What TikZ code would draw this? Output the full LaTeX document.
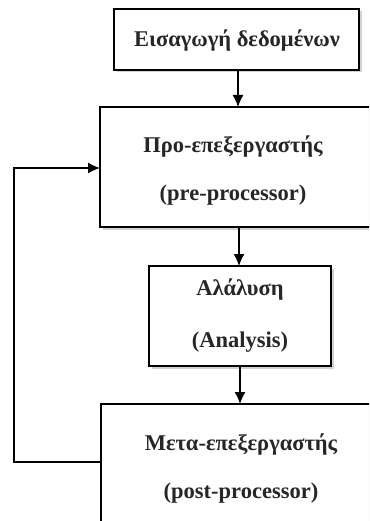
\documentclass[tikz,border=0pt]{standalone}
\usepackage{fontspec}
\setmainfont{Liberation Serif}
\usetikzlibrary{shadows,arrows.meta}
\begin{document}
\begin{tikzpicture}[x=1pt,y=-1pt,
  box/.style={draw=black,line width=1.3pt,fill=white,rectangle,inner sep=0pt,
    drop shadow={shadow xshift=2.5pt,shadow yshift=-2.5pt,opacity=0.35,fill=gray}},
  lbl/.style={font=\fontsize{22.5}{26}\selectfont\bfseries,inner sep=0pt,text=black!85},
  conn/.style={line width=1.3pt,-{Latex[length=12pt,width=11pt]}},
  feed/.style={line width=1.3pt}]
\useasboundingbox (0,0) rectangle (369,521);
\clip (0,0) rectangle (369,521);
% boxes
\node[box,minimum width=245pt,minimum height=61pt] (inp) at (236.5,39.5) {};
\node[box,minimum width=300pt,minimum height=120pt] (pre) at (250,167) {};
\node[box,minimum width=182pt,minimum height=100pt] (ana) at (240,316) {};
\node[box,minimum width=300pt,minimum height=130pt] (post) at (251,469) {};
% texts
\node[lbl] (tinp) at (237,41) {Εισαγωγή δεδομένων};
\node[lbl] (tpre1) at (233,147) {Προ-επεξεργαστής};
\node[lbl] (tpre2) at (233,195) {(pre-processor)};
\node[lbl] (tana1) at (240,290) {Αλάλυση};
\node[lbl] (tana2) at (240,342) {(Analysis)};
\node[lbl] (tpost1) at (241,445) {Μετα-επεξεργαστής};
\node[lbl] (tpost2) at (241,493) {(post-processor)};
% coordinates
\coordinate (a1) at (238,70);
\coordinate (a2) at (238,107);
\coordinate (b1) at (239,227);
\coordinate (b2) at (239,266);
\coordinate (c1) at (240,366);
\coordinate (c2) at (240,404);
\coordinate (f1) at (101,462);
\coordinate (f2) at (14,462);
\coordinate (f3) at (14,168);
\coordinate (f4) at (100,168);
% connectors
\draw[conn] (a1) -- (a2);
\draw[conn] (b1) -- (b2);
\draw[conn] (c1) -- (c2);
\draw[conn] (f1) -- (f2) -- (f3) -- (f4);
\end{tikzpicture}
\end{document}
